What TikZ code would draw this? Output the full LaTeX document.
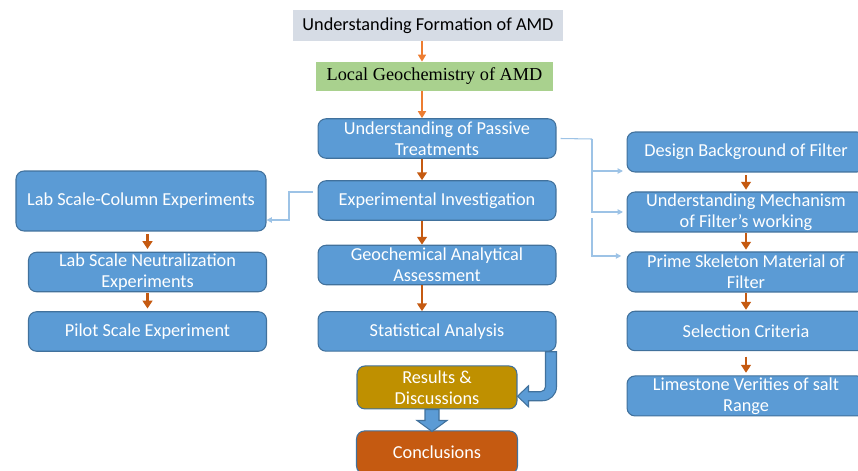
\documentclass[tikz,border=0pt]{standalone}
\usepackage{fontspec}
\setmainfont{Carlito}
\newfontfamily\timesfont{Liberation Serif}
\usetikzlibrary{positioning, arrows.meta}

\definecolor{boxblue}{HTML}{5B9BD5}
\definecolor{boxline}{HTML}{41719C}
\definecolor{linkblue}{HTML}{9DC3E6}
\definecolor{titlegray}{HTML}{D6DCE5}
\definecolor{geogreen}{HTML}{A9D18E}
\definecolor{resgold}{HTML}{BF9000}
\definecolor{darkorange}{HTML}{C55A11}
\definecolor{lightorange}{HTML}{ED7D31}

\begin{document}
\begin{tikzpicture}[x=0.02cm, y=-0.02cm, node distance=1.2cm]
	\tikzstyle{box} = [rectangle, draw=boxline, line width=0.6pt, fill=boxblue, text=white, align=center, rounded corners=0.16cm, minimum width=4.76cm, minimum height=0.79cm, inner sep=0pt, font=\fontsize{10.4}{12}\selectfont]
	\tikzstyle{flat} = [rectangle, inner sep=0pt, align=center, font=\fontsize{10.4}{12}\selectfont]
	\tikzstyle{arrow} = [line width=1.6pt, darkorange, -{Triangle[length=4.5pt,width=5.5pt]}]
	\tikzstyle{thinarrow} = [line width=1pt, lightorange, -{Triangle[length=4pt,width=4.5pt]}]
	\tikzstyle{link} = [line width=0.6pt, linkblue, -{Triangle[length=3pt,width=3pt]}]
	\tikzstyle{blockarrow} = [draw=boxline, line width=0.6pt, fill=boxblue]

	\useasboundingbox (0,0) rectangle (858,470);

	% middle column
	\node [flat, fill=titlegray, minimum width=5.4cm, minimum height=0.62cm] (title) at (428,25.5) {Understanding Formation of AMD};
	\node [flat, fill=geogreen, minimum width=4.74cm, minimum height=0.58cm, font=\timesfont\fontsize{10.4}{12}\selectfont] (geochem) at (434.5,76.5) {Local Geochemistry of AMD};
	\node [box] (passive) at (437,138.5) {Understanding of Passive\\Treatments};
	\node [box, below of=passive, node distance=1.24cm] (experim) {Experimental Investigation};
	\node [box, below of=experim, node distance=1.29cm] (geoassess) {Geochemical Analytical\\Assessment};
	\node [box, below of=geoassess, node distance=1.33cm] (statis) {Statistical Analysis};
	\node [box, fill=resgold, below of=statis, node distance=1.12cm, minimum width=3.2cm, minimum height=0.86cm] (results) {Results \&\\Discussions};
	\node [box, fill=darkorange, below of=results, node distance=1.3cm, minimum width=3.22cm, minimum height=0.86cm] (concl) {Conclusions};

	% left column
	\node [box, minimum width=5cm, minimum height=1.2cm] (labcol) at (141,201) {Lab Scale-Column Experiments};
	\node [box] (labneut) at (147.5,272) {Lab Scale Neutralization\\Experiments};
	\node [box, below of=labneut, node distance=1.19cm] (pilot) {Pilot Scale Experiment};

	% right column
	\node [box, minimum height=0.8cm] (design) at (746,152) {Design Background of Filter};
	\node [box, below of=design, minimum height=0.8cm] (mechanism) {Understanding Mechanism\\of Filter’s working};
	\node [box, below of=mechanism, minimum height=0.8cm] (skeleton) {Prime Skeleton Material of\\Filter};
	\node [box, below of=skeleton, node distance=1.18cm] (selection) {Selection Criteria};
	\node [box, below of=selection, node distance=1.3cm, minimum height=0.8cm] (limestone) {Limestone Verities of salt\\Range};

	\coordinate (axis) at (422,0);
	\coordinate (rbus) at (592,139);
	\coordinate (rbus2) at (592,218);
	\coordinate (lbus) at (289,220);

	\draw [thinarrow] (title.south -| axis) -- (geochem.north -| axis);
	\draw [thinarrow] (geochem.south -| axis) -- (passive.north -| axis);
	\draw [arrow] (passive.south -| axis) -- (experim.north -| axis);
	\draw [arrow] (experim.south -| axis) -- (geoassess.north -| axis);
	\draw [arrow] (geoassess.south -| axis) -- (statis.north -| axis);

	\draw [arrow, shorten <=1.5pt, shorten >=1.5pt] (labcol.south -| labneut) -- (labneut.north);
	\draw [arrow, shorten <=0.5pt, shorten >=1.5pt] (labneut.south) -- (pilot.north);

	\draw [arrow, shorten <=1.5pt, shorten >=1pt] (design.south) -- (mechanism.north);
	\draw [arrow, shorten <=0.5pt, shorten >=1pt] (mechanism.south) -- (skeleton.north);
	\draw [arrow, shorten <=0.5pt, shorten >=0.5pt] (skeleton.south) -- (selection.north);
	\draw [arrow, shorten <=3pt, shorten >=1.5pt] (selection.south) -- (limestone.north);

	% thin connectors
	\draw [link, -] ([xshift=0.08cm]passive.east) -- (rbus);
	\draw [link, shorten >=2pt] (rbus) |- ([yshift=-0.38cm]design.west);
	\draw [link, shorten >=2pt] (rbus) |- (mechanism.west);
	\draw [link, shorten >=3pt] (rbus2) |- ([yshift=0.32cm]skeleton.west);
	\draw [link, shorten <=0.1cm] ([yshift=0.17cm]experim.west) -| (lbus) -- (labcol.east |- lbus);

	% block arrows
	\draw [blockarrow] ([xshift=-0.22cm]statis.south east) -- ++(0,35) to[out=-90,in=0] ++(-5,5) -- ++(-12,0) -- ++(0,-6) -- ++(-11,10.5) -- ++(11,10.5) -- ++(0,-6) -- ++(14,0) to[out=0,in=-90] ++(14,-14) -- (statis.south east) -- cycle;
	\draw [blockarrow] ([xshift=-0.24cm]results.south) -- ++(0,11) -- ++(-8,0) -- ++(15,11) -- ++(15,-11) -- ++(-8,0) -- ++(0,-11) -- cycle;
\end{tikzpicture}
\end{document}
